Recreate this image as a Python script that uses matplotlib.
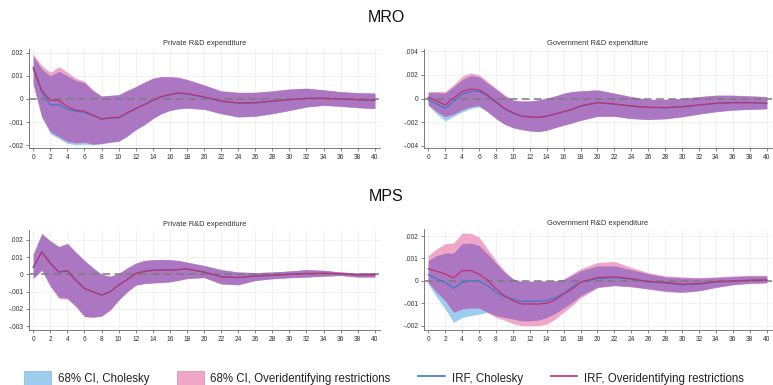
import numpy as np
import matplotlib
matplotlib.use("Agg")
import matplotlib.pyplot as plt
import matplotlib.patches as mpatches
from matplotlib.lines import Line2D
from matplotlib.ticker import FuncFormatter

plt.rcParams["font.family"] = ["Liberation Sans", "DejaVu Sans"]

# horizon grid (quarters): every period up to 18, then every second one
T = list(range(0, 19)) + list(range(20, 41, 2))

# values in units of 1e-3
# ── MRO, private R&D ──
mro_priv_irf_c = [1.30, 0.30, -0.27, -0.23, -0.45, -0.53, -0.58, -0.72, -0.87, -0.82, -0.82, -0.62, -0.43, -0.25, -0.07, 0.10, 0.18, 0.25, 0.22,
                  0.08, -0.10, -0.18, -0.17, -0.10, -0.04, 0.02, 0.03, 0.00, -0.03, -0.06]
mro_priv_irf_o = [1.37, 0.37, -0.06, -0.06, -0.34, -0.49, -0.53, -0.70, -0.87, -0.81, -0.80, -0.60, -0.41, -0.24, -0.06, 0.11, 0.19, 0.26, 0.23,
                  0.09, -0.09, -0.17, -0.16, -0.09, -0.03, 0.03, 0.03, 0.00, -0.03, -0.06]
mro_priv_hi_c = [1.85, 1.30, 1.00, 1.20, 1.00, 0.80, 0.70, 0.35, 0.12, 0.15, 0.18, 0.36, 0.53, 0.72, 0.89, 0.96, 0.96, 0.93, 0.84,
                 0.60, 0.34, 0.28, 0.28, 0.34, 0.42, 0.46, 0.39, 0.31, 0.27, 0.25]
mro_priv_hi_o = [1.94, 1.44, 1.16, 1.40, 1.16, 0.90, 0.77, 0.40, 0.13, 0.16, 0.19, 0.37, 0.54, 0.73, 0.90, 0.97, 0.97, 0.94, 0.85,
                 0.62, 0.36, 0.30, 0.30, 0.36, 0.44, 0.47, 0.40, 0.32, 0.28, 0.26]
mro_priv_lo_c = [0.66, -0.80, -1.50, -1.72, -1.92, -1.98, -1.95, -1.98, -1.94, -1.88, -1.84, -1.62, -1.34, -1.13, -0.86, -0.65, -0.50, -0.43, -0.40,
                 -0.45, -0.64, -0.78, -0.75, -0.64, -0.50, -0.35, -0.28, -0.32, -0.38, -0.42]
mro_priv_lo_o = [0.60, -0.77, -1.41, -1.63, -1.84, -1.90, -1.87, -1.95, -1.92, -1.86, -1.82, -1.60, -1.32, -1.11, -0.84, -0.63, -0.49, -0.42, -0.39,
                 -0.44, -0.63, -0.77, -0.74, -0.63, -0.49, -0.34, -0.27, -0.31, -0.37, -0.41]

# ── MRO, government R&D ──
mro_gov_irf_c = [-0.11, -0.46, -0.83, -0.26, 0.37, 0.60, 0.60, 0.23, -0.34, -0.88, -1.25, -1.52, -1.57, -1.62, -1.51, -1.33, -1.13, -0.93, -0.66,
                 -0.36, -0.48, -0.65, -0.76, -0.79, -0.71, -0.56, -0.42, -0.36, -0.36, -0.42]
mro_gov_irf_o = [0.11, -0.20, -0.54, 0.03, 0.60, 0.80, 0.74, 0.31, -0.26, -0.83, -1.20, -1.49, -1.54, -1.60, -1.49, -1.31, -1.11, -0.91, -0.63,
                 -0.34, -0.46, -0.63, -0.74, -0.77, -0.69, -0.54, -0.40, -0.34, -0.34, -0.40]
mro_gov_hi_c = [0.50, 0.50, 0.45, 1.00, 1.60, 1.95, 1.85, 1.30, 0.80, 0.25, -0.15, -0.23, -0.22, -0.13, 0.01, 0.21, 0.44, 0.58, 0.64,
                0.72, 0.44, 0.15, -0.08, -0.08, 0.01, 0.15, 0.27, 0.27, 0.21, 0.15]
mro_gov_hi_o = [0.60, 0.60, 0.60, 1.17, 1.89, 2.17, 2.03, 1.46, 0.89, 0.31, -0.11, -0.20, -0.20, -0.11, 0.03, 0.23, 0.46, 0.60, 0.66,
                0.74, 0.46, 0.17, -0.06, -0.06, 0.03, 0.17, 0.29, 0.29, 0.23, 0.17]
mro_gov_lo_c = [-0.60, -1.30, -1.90, -1.50, -1.15, -0.85, -0.70, -1.12, -1.70, -2.18, -2.47, -2.64, -2.75, -2.80, -2.70, -2.47, -2.27, -2.07, -1.86,
                -1.52, -1.52, -1.70, -1.78, -1.72, -1.55, -1.32, -1.12, -0.98, -0.92, -0.87]
mro_gov_lo_o = [-0.54, -1.11, -1.54, -1.31, -0.97, -0.69, -0.60, -1.11, -1.69, -2.17, -2.46, -2.63, -2.74, -2.80, -2.69, -2.46, -2.26, -2.06, -1.85,
                -1.50, -1.50, -1.69, -1.77, -1.71, -1.54, -1.31, -1.11, -0.97, -0.91, -0.86]

# ── MPS, private R&D ──
mps_priv_irf_c = [0.40, 1.32, 0.66, 0.15, 0.21, -0.33, -0.82, -1.01, -1.20, -1.01, -0.62, -0.30, 0.05, 0.18, 0.24, 0.26, 0.26, 0.28, 0.31,
                  0.14, -0.14, -0.18, -0.09, -0.05, 0.01, 0.05, 0.06, 0.04, -0.04, -0.02]
mps_priv_irf_o = [0.42, 1.29, 0.62, 0.13, 0.19, -0.35, -0.83, -1.02, -1.21, -1.02, -0.63, -0.31, 0.04, 0.17, 0.23, 0.25, 0.25, 0.27, 0.31,
                  0.13, -0.15, -0.19, -0.10, -0.06, 0.00, 0.04, 0.06, 0.04, -0.04, -0.02]
mps_priv_hi_c = [1.16, 2.35, 1.93, 1.60, 1.78, 1.27, 0.79, 0.37, 0.00, -0.12, 0.04, 0.37, 0.64, 0.80, 0.84, 0.86, 0.84, 0.80, 0.70,
                 0.51, 0.27, 0.13, 0.10, 0.13, 0.19, 0.27, 0.23, 0.13, 0.08, 0.10]
mps_priv_hi_o = [1.19, 2.38, 1.96, 1.62, 1.81, 1.29, 0.81, 0.38, 0.00, -0.12, 0.04, 0.38, 0.65, 0.81, 0.85, 0.87, 0.85, 0.81, 0.71,
                 0.52, 0.27, 0.13, 0.10, 0.13, 0.19, 0.27, 0.23, 0.13, 0.08, 0.10]
mps_priv_lo_c = [-0.22, 0.25, -0.66, -1.33, -1.38, -1.85, -2.44, -2.48, -2.41, -2.07, -1.49, -1.01, -0.62, -0.53, -0.49, -0.47, -0.43, -0.34, -0.24,
                 -0.18, -0.55, -0.60, -0.35, -0.25, -0.19, -0.15, -0.10, -0.06, -0.15, -0.15]
mps_priv_lo_o = [-0.25, 0.23, -0.73, -1.40, -1.44, -1.88, -2.46, -2.50, -2.42, -2.08, -1.50, -1.02, -0.63, -0.54, -0.50, -0.48, -0.44, -0.35, -0.25,
                 -0.19, -0.56, -0.61, -0.36, -0.26, -0.20, -0.16, -0.11, -0.07, -0.16, -0.16]

# ── MPS, government R&D ──
mps_gov_irf_c = [0.28, 0.09, -0.06, -0.33, -0.06, 0.01, -0.01, -0.21, -0.51, -0.70, -0.81, -0.91, -0.91, -0.91, -0.88, -0.76, -0.55, -0.28, -0.06,
                 0.10, 0.15, 0.08, -0.05, -0.09, -0.17, -0.14, -0.05, -0.02, 0.02, 0.03]
mps_gov_irf_o = [0.54, 0.43, 0.31, 0.13, 0.46, 0.46, 0.31, 0.04, -0.36, -0.66, -0.88, -1.03, -1.03, -1.03, -1.00, -0.85, -0.58, -0.36, -0.06,
                 0.15, 0.18, 0.10, -0.03, -0.07, -0.15, -0.12, -0.03, 0.00, 0.03, 0.04]
mps_gov_hi_c = [0.91, 1.13, 1.24, 1.24, 1.66, 1.69, 1.58, 1.21, 0.79, 0.39, 0.09, 0.01, 0.00, -0.01, -0.01, 0.00, 0.06, 0.25, 0.45,
                0.67, 0.67, 0.50, 0.32, 0.18, 0.14, 0.12, 0.15, 0.19, 0.22, 0.22]
mps_gov_hi_o = [1.13, 1.43, 1.66, 1.69, 2.13, 2.13, 1.96, 1.43, 0.91, 0.46, 0.09, -0.03, -0.03, -0.01, -0.01, 0.01, 0.09, 0.31, 0.54,
                0.82, 0.87, 0.60, 0.37, 0.22, 0.18, 0.15, 0.18, 0.22, 0.25, 0.25]
mps_gov_lo_c = [-0.13, -0.73, -1.25, -1.85, -1.63, -1.55, -1.48, -1.40, -1.55, -1.63, -1.70, -1.78, -1.78, -1.75, -1.63, -1.45, -1.21, -0.96, -0.66,
                -0.28, -0.20, -0.25, -0.35, -0.45, -0.50, -0.43, -0.28, -0.16, -0.10, -0.08]
mps_gov_lo_o = [-0.06, -0.51, -0.88, -1.40, -1.25, -1.21, -1.21, -1.40, -1.63, -1.75, -1.90, -2.00, -2.00, -2.00, -1.93, -1.70, -1.40, -1.10, -0.76,
                -0.30, -0.22, -0.27, -0.37, -0.48, -0.52, -0.45, -0.30, -0.18, -0.12, -0.09]

COL_BLUE_CI = "#9ccdef"
COL_PINK_CI = "#f0a6c6"
COL_BOTH_CI = "#ab76c2"
COL_BLUE = "#3d7cc6"
COL_RED = "#c2306e"


def fmt_y(v, pos):
    if abs(v) < 1e-12:
        return "0"
    s = f"{v:.3f}"
    return s.replace("0.", ".")


def panel(rect, title, irf_c, irf_o, lo_c, hi_c, lo_o, hi_o, ylim, yticks):
    ax = fig.add_axes(rect)
    x = np.array(T)
    sc = 1e-3
    lo_c, hi_c = np.array(lo_c) * sc, np.array(hi_c) * sc
    lo_o, hi_o = np.array(lo_o) * sc, np.array(hi_o) * sc
    ax.fill_between(x, lo_c, hi_c, color=COL_BLUE_CI, lw=0, zorder=2)
    ax.fill_between(x, lo_o, hi_o, color=COL_PINK_CI, lw=0, zorder=2)
    lo_b, hi_b = np.maximum(lo_c, lo_o), np.minimum(hi_c, hi_o)
    ax.fill_between(x, lo_b, hi_b, where=hi_b > lo_b, interpolate=True,
                    color=COL_BOTH_CI, lw=0, zorder=3)
    ax.axhline(0, color="#7a7a7a", lw=1.1, ls=(0, (5, 3)), zorder=4)
    ax.plot(x, np.array(irf_c) * sc, color=COL_BLUE, lw=0.9, zorder=5)
    ax.plot(x, np.array(irf_o) * sc, color=COL_RED, lw=0.9, zorder=6)

    ax.set_xlim(-0.5, 40.6)
    ax.set_ylim(*ylim)
    ax.set_xticks(range(0, 41, 2))
    ax.set_yticks(yticks)
    ax.yaxis.set_major_formatter(FuncFormatter(fmt_y))
    ax.tick_params(labelsize=4.8, length=2, width=0.5, color="#555555", pad=2,
                   labelcolor="#333333")
    ax.grid(True, color="#ececec", lw=0.5, zorder=0)
    ax.set_axisbelow(True)
    for s in ("top", "right"):
        ax.spines[s].set_visible(False)
    for s in ("left", "bottom"):
        ax.spines[s].set_color("#666666")
        ax.spines[s].set_linewidth(0.6)
    ax.set_title(title, fontsize=5.4, color="#333333", pad=3)
    return ax


fig = plt.figure(figsize=(7.73, 3.85), dpi=100)

panel([0.0375, 0.6156, 0.454, 0.257], "Private R&D expenditure",
      mro_priv_irf_c, mro_priv_irf_o, mro_priv_lo_c, mro_priv_hi_c, mro_priv_lo_o, mro_priv_hi_o,
      (-0.00212, 0.00216), [-0.002, -0.001, 0, 0.001, 0.002])
panel([0.5485, 0.6156, 0.450, 0.257], "Government R&D expenditure",
      mro_gov_irf_c, mro_gov_irf_o, mro_gov_lo_c, mro_gov_hi_c, mro_gov_lo_o, mro_gov_hi_o,
      (-0.0042, 0.0042), [-0.004, -0.002, 0, 0.002, 0.004])
panel([0.0375, 0.1429, 0.454, 0.260], "Private R&D expenditure",
      mps_priv_irf_c, mps_priv_irf_o, mps_priv_lo_c, mps_priv_hi_c, mps_priv_lo_o, mps_priv_hi_o,
      (-0.00323, 0.00258), [-0.003, -0.002, -0.001, 0, 0.001, 0.002])
panel([0.5485, 0.1429, 0.450, 0.262], "Government R&D expenditure",
      mps_gov_irf_c, mps_gov_irf_o, mps_gov_lo_c, mps_gov_hi_c, mps_gov_lo_o, mps_gov_hi_o,
      (-0.00219, 0.00231), [-0.002, -0.001, 0, 0.001, 0.002])

fig.text(0.5, 1 - 17 / 385, "MRO", ha="center", va="center", fontsize=11.5, color="#111111")
fig.text(0.5, 1 - 197 / 385, "MPS", ha="center", va="center", fontsize=11.5, color="#111111")

handles = [
    mpatches.Patch(facecolor=COL_BLUE_CI, edgecolor="#7fb6dd", lw=0.5, label="68% CI, Cholesky"),
    mpatches.Patch(facecolor=COL_PINK_CI, edgecolor="#d98aae", lw=0.5, label="68% CI, Overidentifying restrictions"),
    Line2D([], [], color=COL_BLUE, lw=1.2, label="IRF, Cholesky"),
    Line2D([], [], color=COL_RED, lw=1.2, label="IRF, Overidentifying restrictions"),
]
fig.legend(handles=handles, loc="center", bbox_to_anchor=(0.497, 1 - 378 / 385), ncol=4,
           frameon=False, fontsize=8.3, handlelength=2.3, handleheight=1.5,
           columnspacing=2.4, handletextpad=0.6, labelcolor="#222222")

fig.savefig("out.png", dpi=100)
